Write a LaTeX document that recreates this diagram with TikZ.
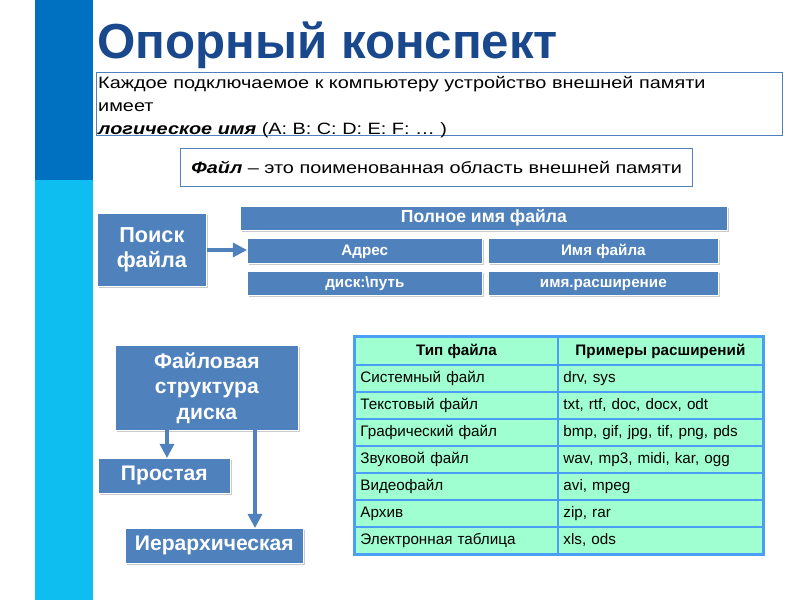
\documentclass[tikz,border=0pt]{standalone}
\usepackage{fontspec}
\setmainfont{Liberation Sans}
\newfontfamily\widesans[FakeStretch=1.21]{Liberation Sans}
\usetikzlibrary{shadows,arrows.meta}
\definecolor{boxblue}{RGB}{79,129,189}
\definecolor{titleblue}{RGB}{25,72,140}
\definecolor{bardark}{RGB}{0,112,192}
\definecolor{barlight}{RGB}{14,190,240}
\definecolor{cellfill}{RGB}{160,255,208}
\definecolor{cellline}{RGB}{74,158,245}
\tikzset{
  bluebox/.style={fill=boxblue, draw=white, line width=0.6pt, text=white, font=\bfseries,
    align=center, inner sep=0pt, anchor=north west,
    drop shadow={shadow xshift=1.2pt, shadow yshift=-1.2pt, opacity=0.35, fill=black!60}},
  oneline/.style={text height=0.8em, text depth=0.08em},
  framebox/.style={draw=boxblue, line width=1.2pt, anchor=north west, inner sep=0pt},
  cell/.style={draw=cellline, line width=1.6pt, fill=cellfill, anchor=north west, inner sep=0pt,
    minimum width=203*0.03cm, minimum height=27*0.03cm, font=\fontsize{13}{15}\selectfont,
    text height=0.8em, text depth=0.08em},
  flow/.style={draw=boxblue, line width=2.6pt, -{Triangle[length=12pt,width=12pt]}},
}
\begin{document}
\begin{tikzpicture}[x=0.03cm,y=-0.03cm]
\useasboundingbox (0,0) rectangle (800,600);
% left bar
\fill[bardark] (35,0) rectangle (93,180);
\fill[barlight] (35,180) rectangle (93,600);
% title
\node[anchor=base west, text=titleblue, font=\fontsize{42}{48}\bfseries\selectfont, inner sep=0pt] (title) at (97,59) {Опорный конспект};
% text box
\node[framebox, minimum width=686*0.03cm, minimum height=63*0.03cm] (intro) at (96,72) {};
\node[anchor=north west, inner sep=0pt, align=left, font=\widesans\fontsize{14}{19.6}\selectfont] (introtext) at (98,76)
 {Каждое подключаемое к компьютеру устройство внешней памяти\\имеет\\\textbf{\textit{логическое имя}} (A: B: C: D: E: F: … )};
% file box
\node[framebox, minimum width=512*0.03cm, minimum height=38*0.03cm, font=\widesans\fontsize{14}{16}\selectfont] (file) at (180,148)
 {\textbf{\textit{Файл}} – это поименованная область внешней памяти};
% search
\node[bluebox, minimum width=109*0.03cm, minimum height=73*0.03cm, font=\fontsize{18.5}{21}\bfseries\selectfont] (search) at (97,213) {Поиск\\файла};
\node[bluebox, oneline, minimum width=487*0.03cm, minimum height=24*0.03cm, font=\fontsize{15}{17}\bfseries\selectfont] (full) at (240,206) {Полное имя файла};
\node[bluebox, oneline, minimum width=235*0.03cm, minimum height=25*0.03cm, font=\fontsize{13}{15}\bfseries\selectfont] (addr) at (247,238) {Адрес};
\node[bluebox, oneline, minimum width=230*0.03cm, minimum height=25*0.03cm, font=\fontsize{13}{15}\bfseries\selectfont] (fname) at (488,238) {Имя файла};
\node[bluebox, oneline, minimum width=235*0.03cm, minimum height=24*0.03cm, font=\fontsize{13}{15}\bfseries\selectfont] (path) at (247,271) {диск:\textbackslash путь};
\node[bluebox, oneline, minimum width=230*0.03cm, minimum height=24*0.03cm, font=\fontsize{13}{15}\bfseries\selectfont] (ext) at (488,271) {имя.расширение};
\draw[flow] (search.east |- 0,250) -- (addr.west |- 0,250);
% structure
\node[bluebox, minimum width=183*0.03cm, minimum height=85*0.03cm, font=\fontsize{18}{21.8}\bfseries\selectfont] (struct) at (115,345) {Файловая\\структура\\диска};
\node[bluebox, oneline, minimum width=132*0.03cm, minimum height=35*0.03cm, font=\fontsize{18}{21}\bfseries\selectfont] (simple) at (98,458) {Простая};
\node[bluebox, oneline, minimum width=178*0.03cm, minimum height=35*0.03cm, font=\fontsize{18}{21}\bfseries\selectfont] (hier) at (125,528) {Иерархическая};
\coordinate (s1) at (167,430);
\coordinate (s2) at (255,430);
\draw[flow] (s1) -- (s1 |- simple.north);
\draw[flow] (s2) -- (s2 |- hier.north);
% table
\foreach \i/\a/\b [count=\n from 0] in {
  1/Системный файл/{drv, sys},
  2/Текстовый файл/{txt, rtf, doc, docx, odt},
  3/Графический файл/{bmp, gif, jpg, tif, png, pds},
  4/Звуковой файл/{wav, mp3, midi, kar, ogg},
  5/Видеофайл/{avi, mpeg},
  6/Архив/{zip, rar},
  7/Электронная таблица/{xls, ods}} {
  \node[cell, minimum width=203*0.03cm, text width=192*0.03cm, align=left] (ta\i) at (354,{364+27*\n}) {\a};
  \node[cell, minimum width=205*0.03cm, text width=194*0.03cm, align=left] (tb\i) at (557,{364+27*\n}) {\b};
}
\node[cell, minimum width=203*0.03cm, minimum height=28*0.03cm, font=\fontsize{13}{15}\bfseries\selectfont] (th1) at (354,336) {Тип файла};
\node[cell, minimum width=205*0.03cm, minimum height=28*0.03cm, font=\fontsize{13}{15}\bfseries\selectfont] (th2) at (557,336) {Примеры расширений};
\draw[cellline, line width=2.4pt] (th1.north west) rectangle (tb7.south east);
\end{tikzpicture}
\end{document}
